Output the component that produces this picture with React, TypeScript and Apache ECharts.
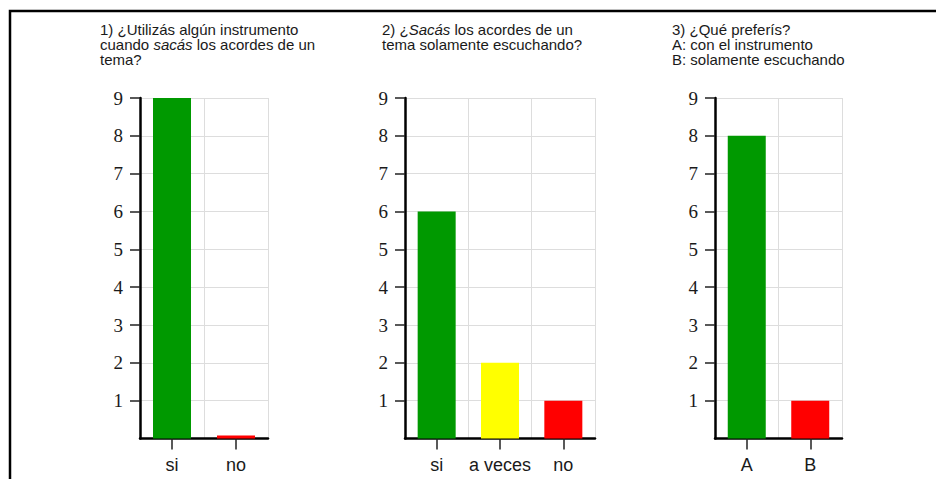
import React, { useEffect, useRef } from "react";
import * as echarts from "echarts";

const categories1 = ["si", "no"];
const values1 = [9, 0.08];
const categories2 = ["si", "a veces", "no"];
const values2 = [6, 2, 1];
const categories3 = ["A", "B"];
const values3 = [8, 1];
const yTickValues = [1, 2, 3, 4, 5, 6, 7, 8, 9];

const title1 = "1) ¿Utilizás algún instrumento\ncuando {i|sacás} los acordes de un\ntema?";
const title2 = "2) ¿{i|Sacás} los acordes de un\ntema solamente escuchando?";
const title3 = "3) ¿Qué preferís?\nA: con el instrumento\nB: solamente escuchando";

const GREEN = "#009900";
const YELLOW = "#ffff00";
const RED = "#ff0000";
const colors1 = [GREEN, RED];
const colors2 = [GREEN, YELLOW, RED];
const colors3 = [GREEN, RED];

const SANS = "'Liberation Sans', Arial, Helvetica, sans-serif";
const SERIF = "'Liberation Serif', 'Times New Roman', serif";

export default function App() {
  const ref = useRef<HTMLDivElement>(null);
  useEffect(() => {
    document.body.style.margin = "0";
    document.body.style.overflow = "hidden";
    const chart = echarts.init(ref.current!, null, { renderer: "svg" });
    const grids = [
      { left: 140, top: 98, width: 128, height: 340.5 },
      { left: 405, top: 98, width: 190, height: 340.5 },
      { left: 715, top: 98, width: 127, height: 340.5 },
    ];
    const cats = [categories1, categories2, categories3];
    const vals = [values1, values2, values3];
    const cols = [colors1, colors2, colors3];
    const titleStyle = {
      fontSize: 15,
      lineHeight: 15.2,
      fontFamily: SANS,
      fontWeight: "normal" as const,
      color: "#1a1a1a",
      rich: {
        i: {
          fontStyle: "italic" as const,
          fontSize: 15,
          lineHeight: 15.2,
          fontFamily: SANS,
          color: "#1a1a1a",
        },
      },
    };
    const titles = [
      { text: title1, left: 100 },
      { text: title2, left: 382 },
      { text: title3, left: 672 },
    ].map((t) => ({ ...t, top: 21.5, padding: 0, textStyle: titleStyle }));

    const option = {
      animation: false,
      backgroundColor: "#ffffff",
      title: titles,
      grid: grids,
      xAxis: cats.map((c, i) => ({
        type: "category",
        gridIndex: i,
        data: c,
        axisLine: { show: true, lineStyle: { color: "#000", width: 2.5 } },
        axisTick: {
          show: true,
          alignWithLabel: true,
          length: 11,
          lineStyle: { color: "#222", width: 1.5 },
        },
        axisLabel: {
          interval: 0,
          fontSize: 18,
          fontFamily: SANS,
          color: "#1a1a1a",
          margin: 17,
        },
        splitLine: { show: true, interval: 0, lineStyle: { color: "#dddddd", width: 1 } },
      })),
      yAxis: cats.map((c, i) => ({
        type: "value",
        gridIndex: i,
        min: 0,
        max: 9,
        interval: 1,
        axisLine: { show: true, lineStyle: { color: "#000", width: 2.5 } },
        axisTick: {
          show: true,
          length: 10,
          customValues: yTickValues,
          lineStyle: { color: "#222", width: 1.5 },
        },
        axisLabel: {
          customValues: yTickValues,
          fontSize: 19,
          fontFamily: SERIF,
          color: "#1a1a1a",
          margin: 17,
        },
        splitLine: { show: true, lineStyle: { color: "#dddddd", width: 1 } },
      })),
      series: vals.map((v, i) => ({
        type: "bar",
        xAxisIndex: i,
        yAxisIndex: i,
        barWidth: 38,
        data: v.map((val, j) => ({ value: val, itemStyle: { color: cols[i][j] } })),
      })),
      graphic: [
        {
          type: "rect",
          shape: { x: 10, y: 11, width: 1000, height: 1000 },
          style: { fill: "none", stroke: "#000", lineWidth: 2.5 },
          z: 100,
        },
      ],
    };
    chart.setOption(option as any);
    return () => chart.dispose();
  }, []);
  return (
    <div
      ref={ref}
      style={{ position: "absolute", left: 0, top: 0, width: 936, height: 479 }}
    />
  );
}
